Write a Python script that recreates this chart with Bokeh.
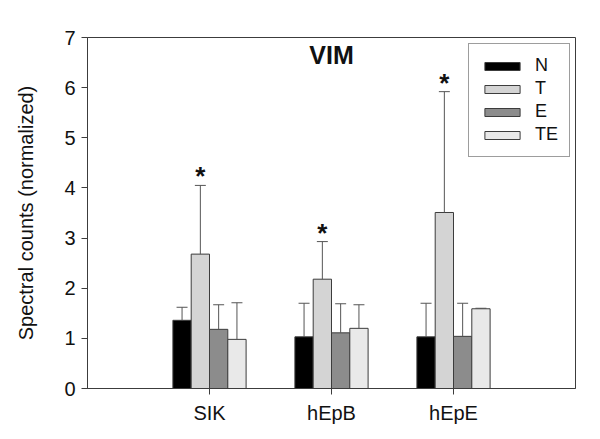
from bokeh.plotting import figure
from bokeh.models import ColumnDataSource, FixedTicker, Label, Legend, LegendItem
from bokeh.core.properties import value
from bokeh.embed import file_html
from bokeh.resources import INLINE

# ---- data ----
groups = ["SIK", "hEpB", "hEpE"]
series = ["N", "T", "E", "TE"]
N_mean = [1.36, 1.03, 1.03]
N_err = [0.26, 0.67, 0.67]
T_mean = [2.68, 2.18, 3.51]
T_err = [1.37, 0.75, 2.41]
E_mean = [1.18, 1.11, 1.04]
E_err = [0.49, 0.58, 0.66]
TE_mean = [0.98, 1.20, 1.59]
TE_err = [0.73, 0.47, 0.01]
T_significant = [True, True, True]
colors = ["#000000", "#d4d4d4", "#8c8c8c", "#e9e9e9"]
y_ticks = [0, 1, 2, 3, 4, 5, 6, 7]

means = [N_mean, T_mean, E_mean, TE_mean]
errs = [N_err, T_err, E_err, TE_err]

FONT = "Liberation Sans"
EDGE = "#3c3c3c"

p = figure(width=592, height=431, x_range=(0, 4), y_range=(0, 7),
           output_backend="svg", toolbar_location=None,
           min_border_left=87, min_border_right=17,
           min_border_top=37, min_border_bottom=43)
p.xgrid.visible = False
p.ygrid.visible = False
p.outline_line_color = EDGE
p.outline_line_width = 1
p.background_fill_color = "white"

bar_w = 0.15
offsets = [-1.5 * bar_w, -0.5 * bar_w, 0.5 * bar_w, 1.5 * bar_w]
cap_half = 0.045
gx = [i + 1 for i in range(len(groups))]

items = []
for k, name in enumerate(series):
    xs = [g + offsets[k] for g in gx]
    tops = [m + e for m, e in zip(means[k], errs[k])]
    src = ColumnDataSource(dict(x=xs, top=means[k], etop=tops,
                                cl=[x - cap_half for x in xs],
                                cr=[x + cap_half for x in xs]))
    r = p.vbar(x="x", top="top", bottom=0, width=bar_w, source=src,
               fill_color=colors[k], line_color=EDGE, line_width=1)
    p.segment(x0="x", y0="top", x1="x", y1="etop", source=src,
              line_color="#555555", line_width=1)
    p.segment(x0="cl", y0="etop", x1="cr", y1="etop", source=src,
              line_color="#555555", line_width=1)
    items.append(LegendItem(label=name, renderers=[r]))

# significance stars above T bars
sx = [g + offsets[1] for g, s in zip(gx, T_significant) if s]
sy = [m + e for m, e, s in zip(T_mean, T_err, T_significant) if s]
star_src = ColumnDataSource(dict(x=sx, y=sy, t=["*"] * len(sx)))
p.text(x="x", y="y", text="t", source=star_src, text_align="center",
       text_baseline="bottom", y_offset=6, text_font=value(FONT),
       text_font_size="26px", text_font_style="bold", text_color="#111111")

# title inside plot
p.add_layout(Label(x=2, y=6.66, text="VIM", text_align="center",
                   text_baseline="middle", text_font=FONT,
                   text_font_size="25px", text_font_style="bold",
                   text_color="#111111"))

# axes
p.xaxis.ticker = FixedTicker(ticks=gx)
p.xaxis.major_label_overrides = {g: lab for g, lab in zip(gx, groups)}
p.yaxis.ticker = FixedTicker(ticks=y_ticks)
for ax in (p.xaxis[0], p.yaxis[0]):
    ax.axis_line_color = EDGE
    ax.major_tick_line_color = EDGE
    ax.major_tick_in = 0
    ax.major_tick_out = 6
    ax.minor_tick_line_color = None
    ax.major_label_text_font = FONT
    ax.major_label_text_font_size = "20px"
    ax.major_label_text_color = "#111111"
p.xaxis.major_label_standoff = 7
p.yaxis.major_label_standoff = 6
p.yaxis.axis_label = "Spectral counts (normalized)"
p.yaxis.axis_label_text_font = FONT
p.yaxis.axis_label_text_font_size = "20px"
p.yaxis.axis_label_text_font_style = "normal"
p.yaxis.axis_label_text_color = "#111111"
p.yaxis.axis_label_standoff = 24

legend = Legend(items=items, location=(381, 231), orientation="vertical",
                glyph_width=44, glyph_height=10, label_height=14,
                spacing=2, padding=11, margin=0, label_standoff=11,
                border_line_color=EDGE, border_line_width=1,
                label_text_font=FONT, label_text_font_size="18px",
                label_text_color="#111111", background_fill_alpha=1)
p.add_layout(legend)

open("out.html", "w").write(file_html(p, INLINE))
